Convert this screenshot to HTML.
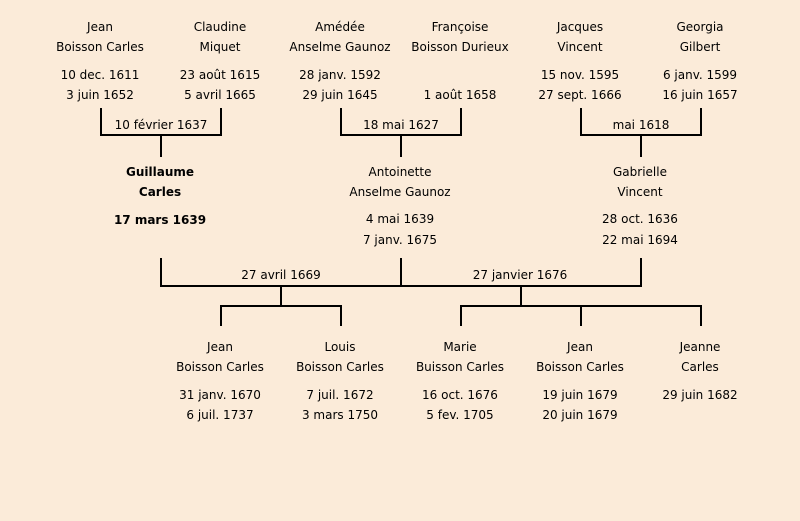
<!DOCTYPE html>
<html><head><meta charset="utf-8"><style>
html,body{margin:0;padding:0;background:#fbebd9;}
svg{display:block}
text{font-family:"DejaVu Sans","Liberation Sans",sans-serif;font-size:12px;fill:#000;text-anchor:middle;dominant-baseline:central}
.b{font-weight:bold}
</style></head><body>
<svg width="800" height="521" xmlns="http://www.w3.org/2000/svg">
<rect width="800" height="521" fill="#fbebd9"/>
<g stroke="#000" stroke-width="2" fill="none">
<path d="M101 108V135H221V108M161 135V157"/>
<path d="M341 108V135H461V108M401 135V157"/>
<path d="M581 108V135H701V108M641 135V157"/>
<path d="M161 258V286H641V258M401 258V286"/>
<path d="M281 286V306M221 326V306H341V326"/>
<path d="M521 286V306M461 326V306H701V326M581 306V326"/>
</g>
<text x="100" y="27">Jean</text><text x="100" y="47">Boisson Carles</text><text x="100" y="75">10 dec. 1611</text><text x="100" y="95">3 juin 1652</text>
<text x="220" y="27">Claudine</text><text x="220" y="47">Miquet</text><text x="220" y="75">23 août 1615</text><text x="220" y="95">5 avril 1665</text>
<text x="340" y="27">Amédée</text><text x="340" y="47">Anselme Gaunoz</text><text x="340" y="75">28 janv. 1592</text><text x="340" y="95">29 juin 1645</text>
<text x="460" y="27">Françoise</text><text x="460" y="47">Boisson Durieux</text><text x="460" y="95">1 août 1658</text>
<text x="580" y="27">Jacques</text><text x="580" y="47">Vincent</text><text x="580" y="75">15 nov. 1595</text><text x="580" y="95">27 sept. 1666</text>
<text x="700" y="27">Georgia</text><text x="700" y="47">Gilbert</text><text x="700" y="75">6 janv. 1599</text><text x="700" y="95">16 juin 1657</text>
<text x="161" y="125">10 février 1637</text>
<text x="401" y="125">18 mai 1627</text>
<text x="641" y="125">mai 1618</text>
<text class="b" x="160" y="172">Guillaume</text><text class="b" x="160" y="192">Carles</text><text class="b" x="160" y="220">17 mars 1639</text>
<text x="400" y="172">Antoinette</text><text x="400" y="192">Anselme Gaunoz</text><text x="400" y="219">4 mai 1639</text><text x="400" y="240">7 janv. 1675</text>
<text x="640" y="172">Gabrielle</text><text x="640" y="192">Vincent</text><text x="640" y="219">28 oct. 1636</text><text x="640" y="240">22 mai 1694</text>
<text x="281" y="275">27 avril 1669</text>
<text x="520" y="275">27 janvier 1676</text>
<text x="220" y="347">Jean</text><text x="220" y="367">Boisson Carles</text><text x="220" y="395">31 janv. 1670</text><text x="220" y="415">6 juil. 1737</text>
<text x="340" y="347">Louis</text><text x="340" y="367">Boisson Carles</text><text x="340" y="395">7 juil. 1672</text><text x="340" y="415">3 mars 1750</text>
<text x="460" y="347">Marie</text><text x="460" y="367">Buisson Carles</text><text x="460" y="395">16 oct. 1676</text><text x="460" y="415">5 fev. 1705</text>
<text x="580" y="347">Jean</text><text x="580" y="367">Boisson Carles</text><text x="580" y="395">19 juin 1679</text><text x="580" y="415">20 juin 1679</text>
<text x="700" y="347">Jeanne</text><text x="700" y="367">Carles</text><text x="700" y="395">29 juin 1682</text>
</svg>
</body></html>
